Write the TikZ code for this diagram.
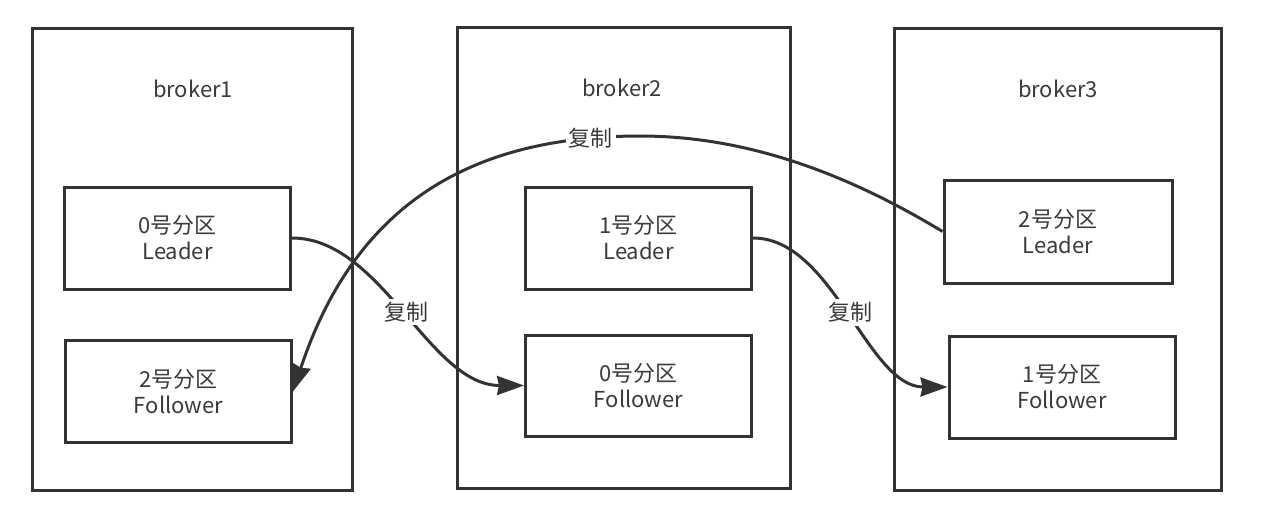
\documentclass[tikz,border=0pt]{standalone}
\usepackage{fontspec}
\setmainfont{Noto Sans CJK SC}
\usetikzlibrary{arrows.meta}
\definecolor{ink}{HTML}{333333}
\definecolor{txt}{HTML}{3A3A3A}
\begin{document}
\begin{tikzpicture}[x=1pt,y=-1pt,
  broker/.style={draw=ink,line width=3pt,minimum width=#1,inner sep=0pt},
  part/.style={draw=ink,line width=3pt,fill=white,minimum width=226pt,minimum height=102pt,inner sep=0pt,align=center,text=txt,font=\fontsize{22}{26}\selectfont},
  title/.style={text=txt,font=\fontsize{22}{26}\selectfont,inner sep=0pt},
  lbl/.style={fill=white,text=txt,font=\fontsize{22}{26}\selectfont,inner sep=3pt},
  link/.style={draw=ink,line width=3pt,-{Stealth[length=27pt,width=19pt,inset=2pt]}}]
\useasboundingbox (0,0) rectangle (1274,528);
% brokers
\node[broker=320pt,minimum height=462pt] (b1) at (192,259) {};
\node[broker=333pt,minimum height=461pt] (b2) at (623.5,257.5) {};
\node[broker=327pt,minimum height=462pt] (b3) at (1057.5,259) {};
\node[title] (t1) at (193,89) {broker1};
\node[title] (t2) at (622,88) {broker2};
\node[title] (t3) at (1058,89) {broker3};
% partitions
\node[part] (p0l) at (177.5,238) {0号分区\\Leader};
\node[part] (p2f) at (178.5,391.5) {2号分区\\Follower};
\node[part] (p1l) at (638.5,238) {1号分区\\Leader};
\node[part,minimum height=101pt] (p0f) at (638.5,385.5) {0号分区\\Follower};
\node[part,minimum width=228pt,minimum height=103pt] (p2l) at (1058,231.5) {2号分区\\Leader};
\node[part] (p1f) at (1062,387) {1号分区\\Follower};
% replication links
\draw[link] (p0l.east) .. controls +(90,0) and +(-95,0) .. node[lbl] (c1) {复制} (p0f.west);
\draw[link] (p1l.east) .. controls +(80,0) and +(-80,0) .. node[lbl] (c3) {复制} (p1f.west);
\coordinate (top) at (640,136);
\draw[link] (p2l.west) .. controls (864,184) and (760,136) .. (top)
  .. controls (470,136) and (355,205) .. (p2f.east) node[lbl,pos=0.1] (c2) {复制};
\end{tikzpicture}
\end{document}
